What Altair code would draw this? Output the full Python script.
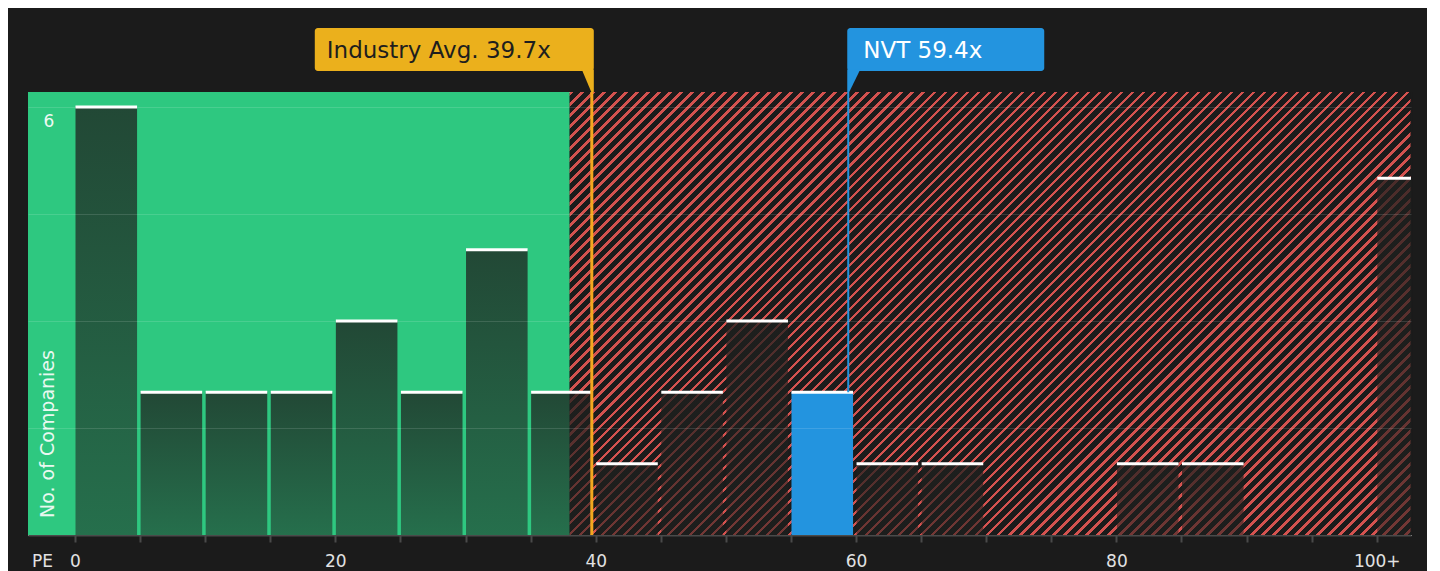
import math
import altair as alt
import pandas as pd

# ---------------- data ----------------
bin_start = [0, 5, 10, 15, 20, 25, 30, 35, 40, 45, 50, 55, 60, 65, 70, 75, 80, 85, 90, 95, 100]
bin_end = [5, 10, 15, 20, 25, 30, 35, 40, 45, 50, 55, 60, 65, 70, 75, 80, 85, 90, 95, 100, 102.86]
company_counts = [6, 2, 2, 2, 3, 2, 4, 2, 1, 2, 3, 2, 1, 1, 0, 0, 1, 1, 0, 0, 5]

x_tick_values = list(range(0, 101, 5))
y_grid_values = [1.5, 3, 4.5, 6]
y_label_values = [6]

industry_avg = 39.7
industry_label = "Industry Avg. 39.7x"
company_name = "NVT"
company_pe = 59.4
company_label = "NVT 59.4x"
fair_pe = 38.0

x_domain = [-3.61, 102.63]
y_domain = [0, 6.21]

# ---------------- style ----------------
PLOT_W, PLOT_H = 1383, 443
FONT = "DejaVu Sans"
BG = "#1b1b1b"
GREEN = "#2ec880"
RED = "#d4524f"
BLUE = "#2394df"
GOLD = "#ebb01c"
GOLD_LINE = "#f3a81f"
AXIS_GREY = "#4a4a4a"
LABEL = "#e2e2e2"

bars = pd.DataFrame({"start": bin_start, "end": bin_end, "count": company_counts})
bars = bars[bars["count"] > 0].copy()
bars["zero"] = 0
bars["company"] = (bars["start"] <= company_pe) & (company_pe < bars["end"])
company_count = float(bars.loc[bars["company"], "count"].iloc[0])

xs = alt.Scale(domain=x_domain, nice=False, zero=False)
ys = alt.Scale(domain=y_domain, nice=False, zero=False)

x_axis = alt.Axis(
    values=x_tick_values,
    labelExpr="datum.value == 100 ? '100+' : (datum.value % 20 == 0 ? datum.label : '')",
    title="PE", titleX=14, titleY=31, titleAlign="center", titleBaseline="alphabetic",
    titleColor=LABEL, titleFontSize=17, titleFontWeight="normal", titleFont=FONT,
    domainColor=AXIS_GREY, domainWidth=2, tickColor=AXIS_GREY, tickWidth=2, tickSize=7,
    labelColor=LABEL, labelFontSize=17, labelFont=FONT, labelBaseline="alphabetic",
    labelPadding=24, labelOverlap=False, labelFlush=False, grid=False,
)
y_axis = alt.Axis(
    values=y_grid_values, labels=False, ticks=False, domain=False, title=None,
    grid=True, gridColor="#ffffff", gridOpacity=0.13, gridWidth=1, zindex=1,
)


def X(field):
    return alt.X(field, type="quantitative", scale=xs, axis=x_axis)


def Y(field):
    return alt.Y(field, type="quantitative", scale=ys, axis=y_axis)


# hatch pattern emulated with a striped linear gradient (45 degree stripes)
hatch_w = (x_domain[1] - fair_pe) / (x_domain[1] - x_domain[0]) * PLOT_W
ratio = PLOT_H / hatch_w
k = 1.25
span = k * (hatch_w + ratio * PLOT_H) / math.sqrt(2)
n_stripes = round(span / 7.8)
frac = 0.32
stops = []
for i in range(n_stripes):
    a = i / n_stripes
    b = (i + frac) / n_stripes
    c = (i + 1) / n_stripes
    stops += [
        alt.GradientStop(offset=a, color=RED),
        alt.GradientStop(offset=b, color=RED),
        alt.GradientStop(offset=b, color=BG),
        alt.GradientStop(offset=c, color=BG),
    ]
hatch_fill = alt.Gradient(gradient="linear", x1=0, y1=0, x2=k, y2=k * ratio, stops=stops)

bar_fill = alt.Gradient(
    gradient="linear", x1=0, y1=0, x2=0, y2=1,
    stops=[
        alt.GradientStop(offset=0, color="rgba(30,32,30,0.76)"),
        alt.GradientStop(offset=1, color="rgba(30,32,30,0.53)"),
    ],
)

green_df = pd.DataFrame({"x": [x_domain[0]], "x2": [fair_pe], "y": [y_domain[0]], "y2": [y_domain[1]]})
red_df = pd.DataFrame({"x": [fair_pe], "x2": [x_domain[1]], "y": [y_domain[0]], "y2": [y_domain[1]]})

green = alt.Chart(green_df).mark_rect(color=GREEN).encode(
    x=X("x"), x2="x2", y=Y("y"), y2="y2"
)
hatch = alt.Chart(red_df).mark_rect(fill=hatch_fill, strokeWidth=0).encode(
    x=X("x"), x2="x2", y=Y("y"), y2="y2"
)
# thin background-coloured edge so the striped fill ends cleanly at the plot border
hatch_edge = alt.Chart(red_df).mark_rule(color=BG, strokeWidth=2, xOffset=0.5).encode(
    x=X("x2"), y=Y("y"), y2="y2"
)

dark_bars = alt.Chart(bars[~bars["company"]]).mark_rect(
    fill=bar_fill, strokeWidth=0, xOffset=0.5, x2Offset=-3
).encode(x=X("start"), x2="end", y=Y("count"), y2="zero")

company_bar = alt.Chart(bars[bars["company"]]).mark_rect(
    color=BLUE, xOffset=0.5, x2Offset=-3
).encode(x=X("start"), x2="end", y=Y("count"), y2="zero")

caps = alt.Chart(bars).mark_rule(color="#ffffff", strokeWidth=3, xOffset=0.5, x2Offset=-3).encode(
    x=X("start"), x2="end", y=Y("count")
)

ind_df = pd.DataFrame({"x": [industry_avg], "x2": [industry_avg], "y": [y_domain[0]], "y2": [y_domain[1]],
                       "label": [industry_label]})
com_df = pd.DataFrame({"x": [company_pe], "x2": [company_pe], "y": [company_count], "y2": [y_domain[1]],
                       "label": [company_label]})

ind_line = alt.Chart(ind_df).mark_rule(color=GOLD_LINE, strokeWidth=3).encode(
    x=X("x"), y=Y("y"), y2="y2"
)
com_line = alt.Chart(com_df).mark_rule(color=BLUE, strokeWidth=2).encode(
    x=X("x"), y=Y("y"), y2="y2"
)

ind_box = alt.Chart(ind_df).mark_rect(color=GOLD, cornerRadius=3, xOffset=-277, x2Offset=2).encode(
    x=X("x"), x2="x2", y=alt.value(-64), y2=alt.value(-21)
)
ind_tail = alt.Chart(ind_df).mark_point(
    shape="M -1 -2.25 L 0.2 -2.25 L 0.2 0 L -0.05 0 Z", size=400, filled=True,
    fill=GOLD, strokeWidth=0, opacity=1
).encode(x=X("x"), y=alt.value(0))
ind_text = alt.Chart(ind_df).mark_text(
    align="left", baseline="alphabetic", dx=-265, fontSize=23, font=FONT, color="#1e1e1e"
).encode(x=X("x"), y=alt.value(-34), text="label:N")

com_box = alt.Chart(com_df).mark_rect(color=BLUE, cornerRadius=3, xOffset=-1, x2Offset=196).encode(
    x=X("x"), x2="x2", y=alt.value(-64), y2=alt.value(-21)
)
com_tail = alt.Chart(com_df).mark_point(
    shape="M -0.1 -2.25 L 1.2 -2.25 L 0.1 0 L -0.1 0 Z", size=400, filled=True,
    fill=BLUE, strokeWidth=0, opacity=1
).encode(x=X("x"), y=alt.value(0))
com_text = alt.Chart(com_df).mark_text(
    align="left", baseline="alphabetic", dx=15, fontSize=23, font=FONT, color="#ffffff"
).encode(x=X("x"), y=alt.value(-34), text="label:N")

y_title = alt.Chart(pd.DataFrame({"t": ["No. of Companies"]})).mark_text(
    angle=270, align="left", baseline="middle", fontSize=19, font=FONT, color="#e9f8f0"
).encode(x=alt.value(20), y=alt.value(PLOT_H - 17), text="t:N")

y_label = alt.Chart(pd.DataFrame({"v": y_label_values})).mark_text(
    align="center", baseline="middle", dy=15, fontSize=17, font=FONT, color="#eef9f3"
).encode(x=alt.value(21), y=Y("v"), text="v:Q")

chart = alt.layer(
    green, hatch, hatch_edge, dark_bars, company_bar, caps, ind_line, com_line,
    ind_box, ind_tail, ind_text, com_box, com_tail, com_text, y_title, y_label,
).properties(
    width=PLOT_W, height=PLOT_H,
    padding={"left": 20, "top": 84, "right": 16, "bottom": 36},
    autosize=alt.AutoSizeParams(type="none"),
    background=BG,
).configure_view(stroke=None).configure(font=FONT)

chart.save("out.html", embed_options={"renderer": "svg", "actions": False})
